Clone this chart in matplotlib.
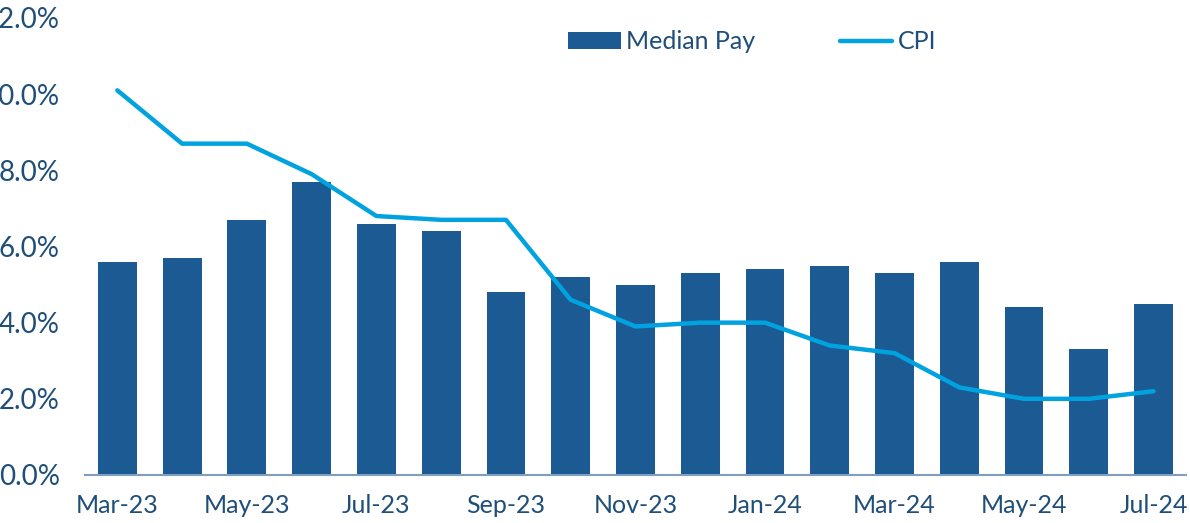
import numpy as np
import matplotlib.pyplot as plt
from matplotlib.ticker import FuncFormatter

plt.rcParams['font.family'] = ['Lato', 'DejaVu Sans']

# data
months = ['Mar-23', 'Apr-23', 'May-23', 'Jun-23', 'Jul-23', 'Aug-23', 'Sep-23',
          'Oct-23', 'Nov-23', 'Dec-23', 'Jan-24', 'Feb-24', 'Mar-24', 'Apr-24',
          'May-24', 'Jun-24', 'Jul-24']
median_pay = [5.6, 5.7, 6.7, 7.7, 6.6, 6.4, 4.8, 5.2, 5.0, 5.3, 5.4, 5.5,
              5.3, 5.6, 4.4, 3.3, 4.5]
cpi = [10.1, 8.7, 8.7, 7.9, 6.8, 6.7, 6.7, 4.6, 3.9, 4.0, 4.0, 3.4, 3.2,
       2.3, 2.0, 2.0, 2.2]

text_col = '#1f4e79'
bar_col = '#1b5a92'
line_col = '#00a3e0'

fig = plt.figure(figsize=(11.9, 5.23), dpi=100)
ax = fig.add_axes([0.0714, 0.0918, 0.9252, 0.8738])

x = np.arange(len(months))
bars = ax.bar(x, median_pay, width=0.6, color=bar_col, label='Median Pay', zorder=2)
line, = ax.plot(x, cpi, color=line_col, lw=3.2, solid_capstyle='round',
                solid_joinstyle='round', label='CPI', zorder=3)

ax.set_xlim(-0.5, len(months) - 0.5)
ax.set_ylim(0, 12)
ax.set_yticks(np.arange(0, 13, 2))
ax.yaxis.set_major_formatter(FuncFormatter(lambda v, p: f'{v:.1f}%'))
ax.set_xticks(x[::2])
ax.set_xticklabels(months[::2])

for s in ['top', 'right', 'left']:
    ax.spines[s].set_visible(False)
ax.spines['bottom'].set_color('#7f9fc0')
ax.spines['bottom'].set_linewidth(1.5)
# 原图左侧的 12.0% / 10.0% 被画布边缘截掉，这里保持同样的位置
ax.tick_params(axis='y', length=0, pad=18, labelsize=20, labelcolor=text_col)
ax.tick_params(axis='x', length=0, pad=14, labelsize=18, labelcolor=text_col)

# 图例：柱在前，线在后
leg = fig.legend([bars, line], ['Median Pay', 'CPI'], loc='center',
                 bbox_to_anchor=(0.632, 0.92), ncol=2, frameon=False,
                 fontsize=18, handlelength=2.1, handletextpad=0.2, columnspacing=3.4)
for t in leg.get_texts():
    t.set_color(text_col)

fig.savefig('out.png', dpi=100)
